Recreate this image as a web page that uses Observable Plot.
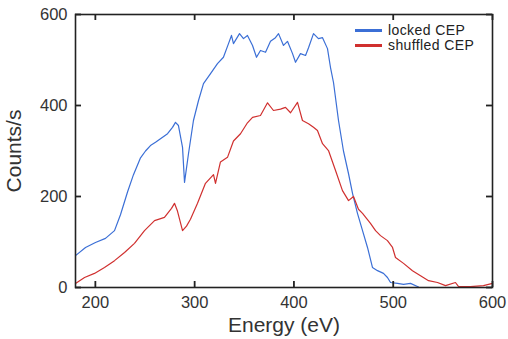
<!DOCTYPE html>
<html>
<head>
<meta charset="utf-8">
<script src="https://cdn.jsdelivr.net/npm/d3@7"></script>
<script src="https://cdn.jsdelivr.net/npm/@observablehq/plot@0.6"></script>
<style>
  html, body { margin: 0; padding: 0; background: #fff; }
  #wrap { position: relative; width: 508px; height: 339px; font-family: "Liberation Sans", Arial, sans-serif; }
  #legend { position: absolute; left: 355px; top: 23px; font-size: 14px; color: #222; line-height: 15px; letter-spacing: 0.4px; }
  #legend .row { display: flex; align-items: center; height: 15px; }
  #legend .sw { width: 27px; height: 3px; margin-right: 6px; }
  g[aria-label="x-axis label"] text, g[aria-label="y-axis label"] text { font-size: 21px; }
</style>
</head>
<body>
<div id="wrap"><div id="legend"></div></div>
<script>
// Series names and colours
const seriesNames = ["locked CEP", "shuffled CEP"];
const seriesColors = ["#3b6fd6", "#d0302f"];

// locked CEP (blue)
const lockedEnergy = [180,190.1,200.1,210.2,219.3,225.3,232.4,238.4,245.5,250.5,255.5,260.6,265.6,272.7,277.7,280.7,283.7,287.8,289.8,293.8,298.8,303.9,308.9,316,323,329,334.1,337.1,339.1,345.2,349.2,353.2,358.3,362.3,366.3,371.4,376.4,381.4,384.5,389.5,393.5,398.6,401.6,406.6,411.7,414.7,419.7,424.7,428.8,433.8,436.8,439.9,444.9,449.9,455,459,464,469.1,474.1,479.1,484.2,490.2,494.2,497.3,504.3,510.4,517.4,525.5];
const lockedCounts = [70,88,99,108,125,160,210,248,285,300,312,319,327,338,352,363,356,308,231,294,367,411,448,470,492,506,536,554,536,558,547,554,532,506,521,517,541,549,558,532,541,514,495,514,510,527,558,547,549,525,484,450,367,300,250,207,163,125,88,44,37,31,22,11,9,7,9,1];

// shuffled CEP (red)
const shuffledEnergy = [180,189.1,199.1,209.2,219.3,229.4,239.4,249.5,259.6,269.6,276.7,279.7,282.7,287.8,291.8,295.8,302.9,310.9,319,321,326,333.1,339.1,346.2,353.2,358.3,366.3,373.4,379.4,386.5,391.5,396.6,403.6,408.6,414.7,419.7,423.7,428.8,434.8,441.9,448.9,455,460,465,469.1,477.1,482.2,487.2,494.2,499.3,502.3,510.4,519.4,527.5,535.6,544.6,552.7,562.7,565.8,577.8,590.9,600];
const shuffledCounts = [9,22,31,44,59,77,97,125,147,154,174,185,168,125,135,150,185,229,248,229,276,286,322,338,362,374,378,406,389,392,396,384,407,367,360,352,345,316,301,257,213,191,200,172,163,141,125,114,103,88,66,53,37,26,15,11,4,11,2,2,4,9];

// Axis ticks
const xTicks = [200, 300, 400, 500, 600];
const yTicks = [0, 200, 400, 600];

const data = [
  ...lockedEnergy.map((e, i) => ({series: seriesNames[0], energy: e, counts: lockedCounts[i]})),
  ...shuffledEnergy.map((e, i) => ({series: seriesNames[1], energy: e, counts: shuffledCounts[i]}))
];

const W = 508, H = 339, ML = 75, MR = 16, MT = 14, MB = 52, TICK = 6;
const innerW = W - ML - MR, innerH = H - MT - MB;
const tickStyle = {stroke: "#222", strokeWidth: 1.8};

const chart = Plot.plot({
  width: W,
  height: H,
  marginLeft: ML,
  marginRight: MR,
  marginTop: MT,
  marginBottom: MB,
  style: {fontFamily: "Liberation Sans, Arial, sans-serif", fontSize: "16.5px", color: "#333", background: "#fff"},
  x: {domain: [180, 600]},
  y: {domain: [0, 600]},
  color: {domain: seriesNames, range: seriesColors},
  marks: [
    Plot.line(data, {x: "energy", y: "counts", z: "series", stroke: "series", strokeWidth: 1.2}),
    // inward tick marks on all four sides
    Plot.tickX(xTicks, {x: d => d, insetTop: innerH - TICK, ...tickStyle}),
    Plot.tickX(xTicks, {x: d => d, insetBottom: innerH - TICK, ...tickStyle}),
    Plot.tickY(yTicks, {y: d => d, insetRight: innerW - TICK, ...tickStyle}),
    Plot.tickY(yTicks, {y: d => d, insetLeft: innerW - TICK, ...tickStyle}),
    Plot.frame({stroke: "#222", strokeWidth: 1.6}),
    Plot.axisX({ticks: xTicks, anchor: "bottom", tickSize: 0, tickPadding: 9, label: "Energy (eV)", labelAnchor: "center", labelArrow: "none", labelOffset: 44}),
    Plot.axisY({ticks: yTicks, anchor: "left", tickSize: 0, tickPadding: 8, label: "Counts/s", labelAnchor: "center", labelArrow: "none", labelOffset: 69})
  ]
});

const wrap = document.getElementById("wrap");
wrap.insertBefore(chart, wrap.firstChild);

const legend = document.getElementById("legend");
seriesNames.forEach((name, i) => {
  const row = document.createElement("div");
  row.className = "row";
  const sw = document.createElement("div");
  sw.className = "sw";
  sw.style.background = seriesColors[i];
  const t = document.createElement("span");
  t.textContent = name;
  row.appendChild(sw);
  row.appendChild(t);
  legend.appendChild(row);
});
</script>
</body>
</html>
